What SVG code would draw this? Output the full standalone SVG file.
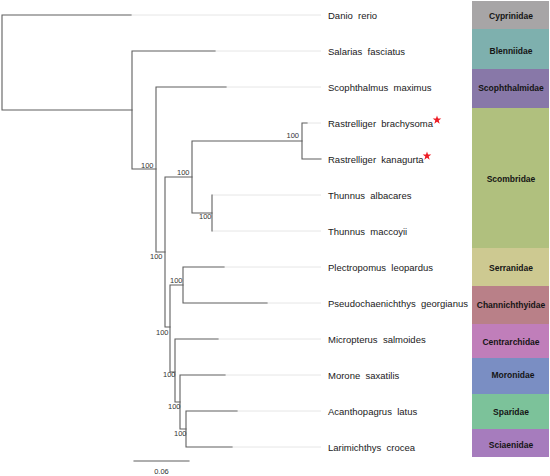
<svg xmlns="http://www.w3.org/2000/svg" xmlns:xlink="http://www.w3.org/1999/xlink" width="550" height="476" viewBox="0 0 550 476">
<style>
.br{stroke:#5f5f5f;stroke-width:1.1;fill:none;stroke-linecap:square}
.ld{stroke:#e6e6e6;stroke-width:1;fill:none}
.tip{font-family:"Liberation Sans",Arial,sans-serif;font-size:9.5px;fill:#1a1a1a;white-space:pre}
.bs{font-family:"Liberation Sans",Arial,sans-serif;font-size:7.5px;fill:#333;text-anchor:end}
.fam{font-family:"Liberation Sans",Arial,sans-serif;font-size:8.5px;font-weight:bold;fill:#151515;text-anchor:middle}
</style>
<defs>
<polygon id="star" points="0,-4.5 1.06,-1.46 4.28,-1.39 1.71,0.56 2.65,3.64 0,1.8 -2.65,3.64 -1.71,0.56 -4.28,-1.39 -1.06,-1.46" fill="#ee1c25"/>
</defs>
<rect width="550" height="476" fill="#ffffff"/>
<g id="leaders">
<path class="ld" d="M131,15H321M215,51H321M226,87H321M307,123H321M212,195H321M212,231H321M224,267H321M267,303H321M218,339H321M225,375H321M237,411H321M232,447H321"/>
</g>
<g id="connectors">
<path class="br" d="M2,15V110M2,15H131M2,110H132"/>
<path class="br" d="M132,51V169M132,51H215M132,169H156"/>
<path class="br" d="M156,87V252M156,87H226M156,252H165"/>
<path class="br" d="M165,177V327M165,177H192M165,327H170"/>
<path class="br" d="M192,141V213M192,141H302M192,213H212"/>
<path class="br" d="M302,123V159M302,123H307M302,159H321"/>
<path class="br" d="M212,195V231"/>
<path class="br" d="M170,285V372M170,285H183M170,372H175"/>
<path class="br" d="M183,267V303M183,267H224M183,303H267"/>
<path class="br" d="M175,339V402M175,339H218M175,402H180"/>
<path class="br" d="M180,375V429M180,375H225M180,429H186"/>
<path class="br" d="M186,411V447M186,411H237M186,447H232"/>
</g>
<g id="bootstrap">
<text class="bs" x="153.5" y="167.7">100</text>
<text class="bs" x="189.5" y="174.7">100</text>
<text class="bs" x="211.5" y="219.4">100</text>
<text class="bs" x="162.5" y="258.7">100</text>
<text class="bs" x="182.5" y="282.7">100</text>
<text class="bs" x="168.5" y="334.7">100</text>
<text class="bs" x="175.5" y="376.7">100</text>
<text class="bs" x="180.5" y="408.7">100</text>
<text class="bs" x="186.5" y="435.7">100</text>
<text class="bs" x="299" y="137.7">100</text>
</g>
<g id="tips">
<text class="tip" x="328" y="19">Danio  rerio</text>
<text class="tip" x="328" y="55">Salarias  fasciatus</text>
<text class="tip" x="328" y="91">Scophthalmus  maximus</text>
<text class="tip" x="328" y="127">Rastrelliger  brachysoma</text>
<text class="tip" x="328" y="163">Rastrelliger  kanagurta</text>
<text class="tip" x="328" y="199">Thunnus  albacares</text>
<text class="tip" x="328" y="235">Thunnus  maccoyii</text>
<text class="tip" x="328" y="271">Plectropomus  leopardus</text>
<text class="tip" x="328" y="307">Pseudochaenichthys  georgianus</text>
<text class="tip" x="328" y="343">Micropterus  salmoides</text>
<text class="tip" x="328" y="379">Morone  saxatilis</text>
<text class="tip" x="328" y="415">Acanthopagrus  latus</text>
<text class="tip" x="328" y="451">Larimichthys  crocea</text>
</g>
<g id="stars">
<use xlink:href="#star" x="437" y="120"/>
<use xlink:href="#star" x="427" y="156"/>
</g>
<g id="families">
<g id="Cyprinidae"><rect x="472" y="1" width="77" height="28" fill="#a7a5a6"/><text class="fam" x="511" y="18.5">Cyprinidae</text></g>
<g id="Blenniidae"><rect x="472" y="29" width="77" height="40" fill="#7eb0ae"/><text class="fam" x="511" y="54">Blenniidae</text></g>
<g id="Scophthalmidae"><rect x="472" y="69" width="77" height="39" fill="#8878a8"/><text class="fam" x="511" y="91">Scophthalmidae</text></g>
<g id="Scombridae"><rect x="472" y="108" width="77" height="140" fill="#b0c07e"/><text class="fam" x="511" y="182">Scombridae</text></g>
<g id="Serranidae"><rect x="472" y="248" width="77" height="38" fill="#cdc991"/><text class="fam" x="511" y="271">Serranidae</text></g>
<g id="Channichthyidae"><rect x="472" y="286" width="77" height="38" fill="#b98088"/><text class="fam" x="511" y="308">Channichthyidae</text></g>
<g id="Centrarchidae"><rect x="472" y="324" width="77" height="34" fill="#c07eba"/><text class="fam" x="511" y="345">Centrarchidae</text></g>
<g id="Moronidae"><rect x="472" y="358" width="77" height="36" fill="#7a8ec3"/><text class="fam" x="513" y="378">Moronidae</text></g>
<g id="Sparidae"><rect x="472" y="394" width="77" height="35" fill="#7cc29a"/><text class="fam" x="511" y="415">Sparidae</text></g>
<g id="Sciaenidae"><rect x="472" y="429" width="77" height="28" fill="#a67cbd"/><text class="fam" x="511" y="448">Sciaenidae</text></g>
</g>
<g id="scalebar">
<path class="br" d="M134,461H189"/>
<text class="bs" x="161.5" y="474" style="text-anchor:middle">0.06</text>
</g>
</svg>
